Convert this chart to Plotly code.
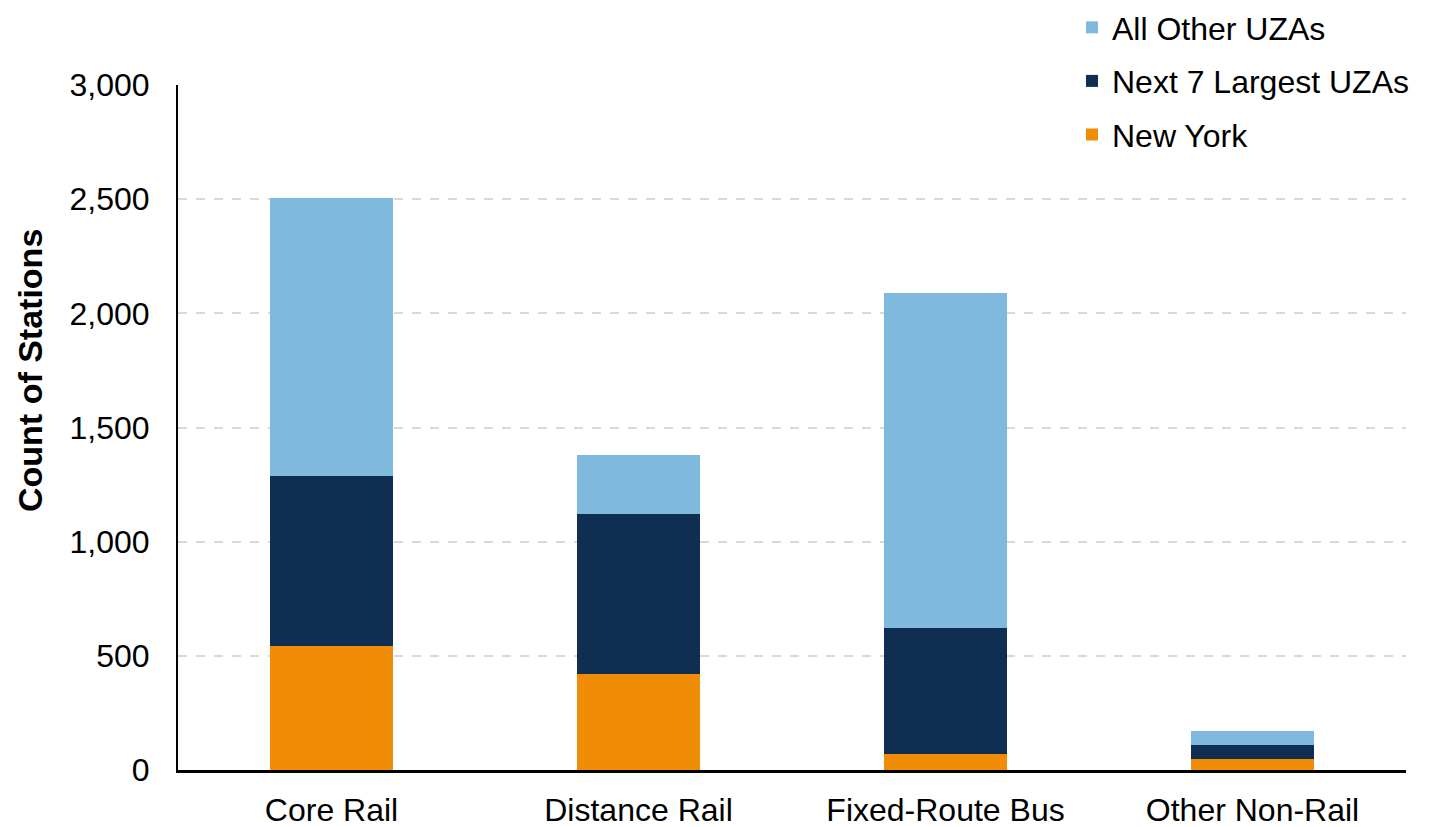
import plotly.graph_objects as go

categories = ["Core Rail", "Distance Rail", "Fixed-Route Bus", "Other Non-Rail"]
new_york = [543, 420, 70, 48]
next7 = [744, 701, 553, 61]
all_other = [1220, 258, 1465, 62]
y_ticks = [0, 500, 1000, 1500, 2000, 2500, 3000]
y_tick_labels = ["0", "500", "1,000", "1,500", "2,000", "2,500", "3,000"]

FONT = "Liberation Sans, Arial, sans-serif"

fig = go.Figure()
fig.add_trace(go.Bar(x=categories, y=new_york, name="New York",
                     marker=dict(color="#F08C06", line=dict(width=0)),
                     legendgroup="a", legendrank=3))
fig.add_trace(go.Bar(x=categories, y=next7, name="Next 7 Largest UZAs",
                     marker=dict(color="#102E52", line=dict(width=0)),
                     legendgroup="b", legendrank=2))
fig.add_trace(go.Bar(x=categories, y=all_other, name="All Other UZAs",
                     marker=dict(color="#7FB9DD", line=dict(width=0)),
                     legendgroup="c", legendrank=1))

fig.update_layout(
    barmode="stack",
    bargap=0.6,
    width=1434, height=827,
    margin=dict(l=178, r=28, t=85, b=57, autoexpand=False),
    plot_bgcolor="white",
    paper_bgcolor="white",
    font=dict(family=FONT, size=32, color="black"),
    legend=dict(
        x=0.728, y=1.011, xanchor="left", yanchor="top",
        yref="container",
        traceorder="grouped",
        tracegroupgap=9,
        font=dict(family=FONT, size=32, color="black"),
        bgcolor="rgba(0,0,0,0)",
    ),
    xaxis=dict(
        showline=True, linecolor="black", linewidth=3,
        ticks="", tickfont=dict(size=32),
        showgrid=False,
        ticklabelstandoff=10,
    ),
    yaxis=dict(
        range=[0, 3000],
        tickvals=y_ticks, ticktext=y_tick_labels,
        showline=True, linecolor="black", linewidth=2,
        ticks="", tickfont=dict(size=32),
        showgrid=True, gridcolor="#D9D9D9", griddash="dash", gridwidth=2,
        zeroline=False,
        ticklabelstandoff=20,
    ),
    annotations=[dict(
        text="<b>Count of Stations</b>",
        textangle=-90,
        xref="paper", yref="paper",
        x=(30 - 178) / 1228, y=(770 - 371) / 685,
        xanchor="center", yanchor="middle",
        showarrow=False,
        font=dict(family=FONT, size=34, color="black"),
    )],
)

fig.write_html("out.html")
